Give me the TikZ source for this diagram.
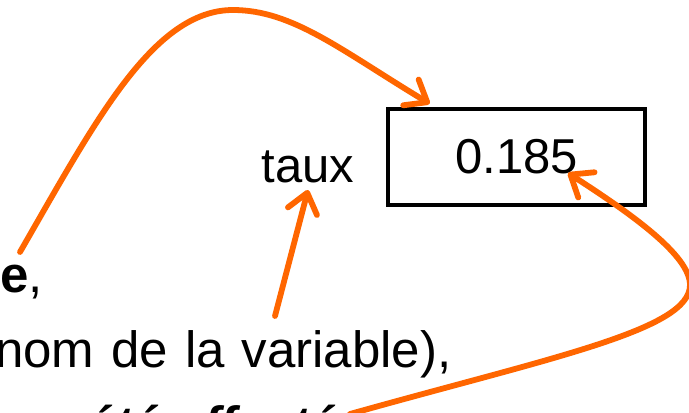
\documentclass[tikz,border=0pt]{standalone}
\usepackage{fontspec}
\setmainfont{Liberation Sans}
\usetikzlibrary{arrows.meta,calc}
\definecolor{ptrorange}{HTML}{FF6600}
\begin{document}
\begin{tikzpicture}[x=0.5pt,y=-0.5pt,
  txt/.style={inner sep=0pt,font=\fontsize{24.5}{29}\selectfont},
  linetxt/.style={inner sep=0pt,font=\fontsize{25.5}{30}\selectfont},
  valbox/.style={draw=black,line width=2.3pt,minimum width=128.5pt,minimum height=48pt,inner sep=0pt,font=\fontsize{24.5}{29}\selectfont},
  ptr/.style={draw=ptrorange,line width=2.9pt,line cap=round,line join=round,
    -{Straight Barb[round,length=9.5pt,width=15pt]}}]
\useasboundingbox (0,0) rectangle (689,412);
\clip (0,0) rectangle (689,412);
\fill[white] (0,0) rectangle (689,412);
% nodes
\node[valbox] (val) at (516.5,157) {0.185};
\node[txt,anchor=base] (name) at (308,182) {taux};
\node[linetxt,anchor=base east] (mem) at (43,292) {\textbf{e},};
\node[linetxt,anchor=base east] (nomline) at (452,367) {\spaceskip=8.5pt nom de la variable),};
\node[linetxt,anchor=base west] (valline) at (44,442) {\textbf{\textit{a été affectée}}};
% connector end points
\coordinate (memtop) at (20,252);
\coordinate (valtl) at ($(val.north west)+(44,-3)$);
\coordinate (nomtop) at (275,316);
\coordinate (nametip) at ($(name.base)+(0,8)$);
\coordinate (valstart) at (350,414);
\coordinate (valin) at ($(val.center)+(51.5,16)$);
% connectors
\draw[ptr] (memtop) .. controls (95,122) and (153,10) .. (233,10)
  .. controls (293,10) and (342,51) .. (valtl);
\draw[ptr] (nomtop) -- (nametip);
\draw[ptr] (valstart) .. controls (553,357) and (690,330) .. (690,285)
  .. controls (690,255) and (630,213) .. (valin);
\end{tikzpicture}
\end{document}
